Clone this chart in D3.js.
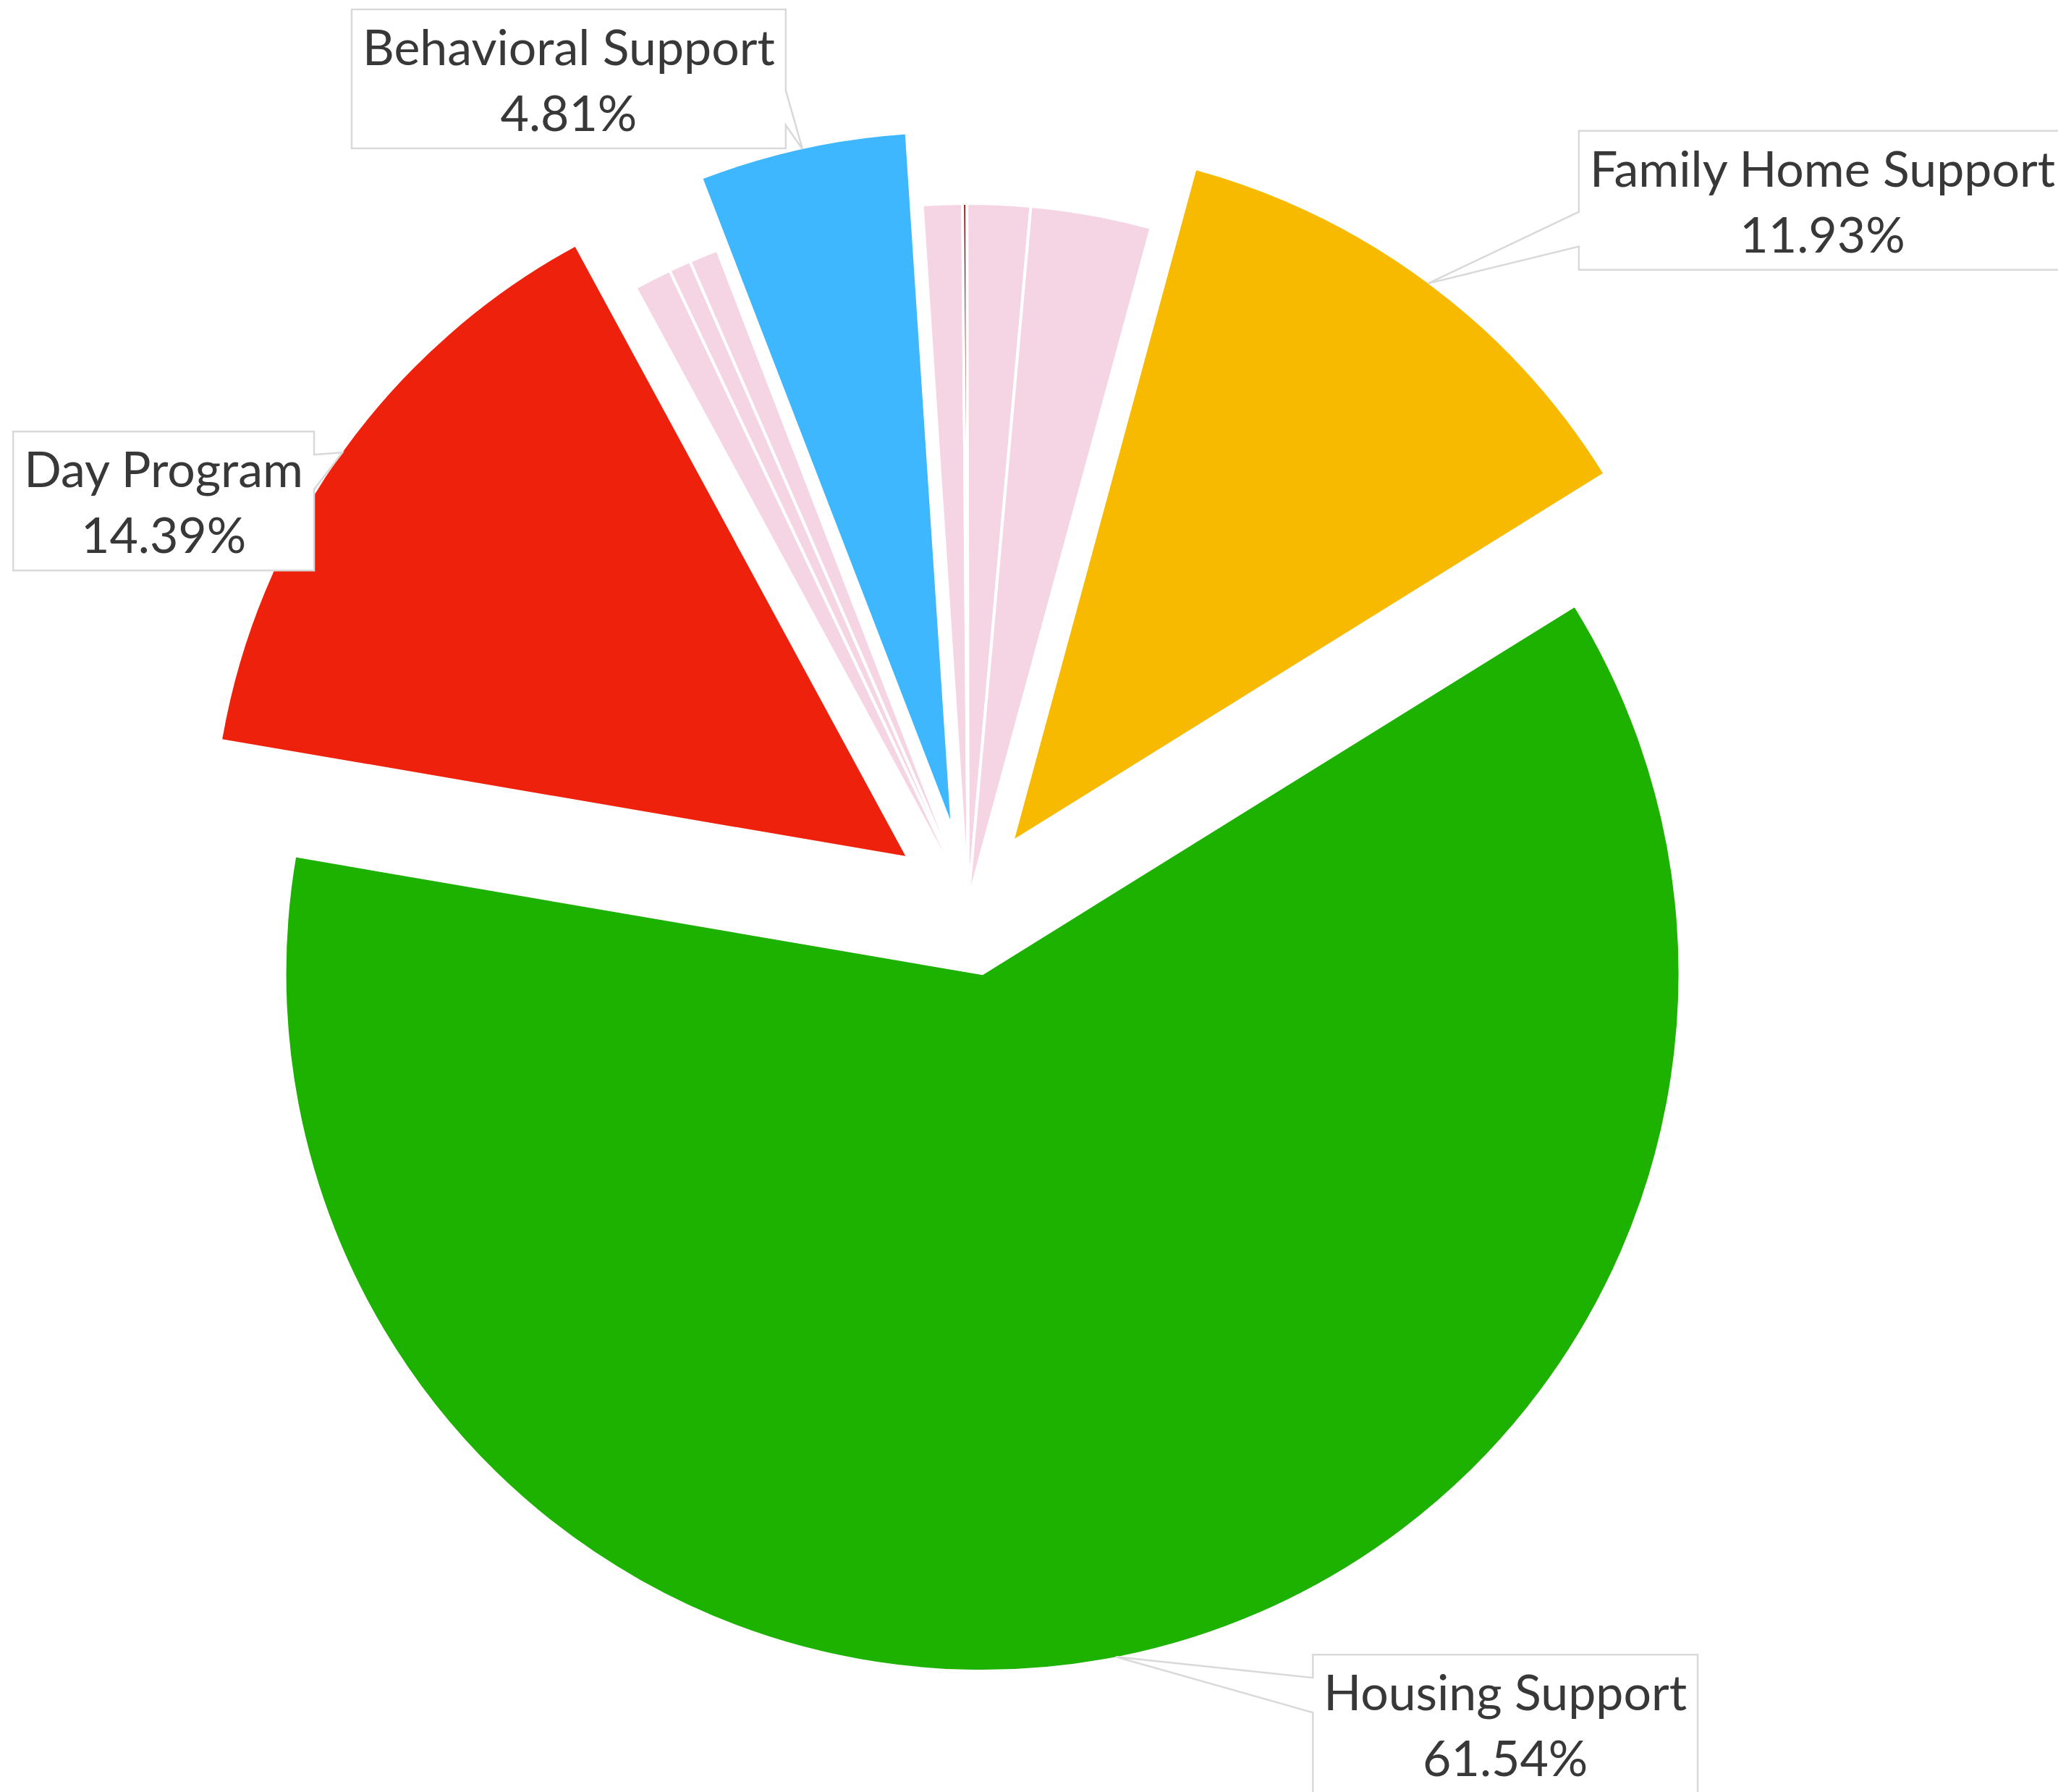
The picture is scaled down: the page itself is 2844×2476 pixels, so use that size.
<!DOCTYPE html>
<html>
<head>
<meta charset="utf-8">
<script src="https://cdn.jsdelivr.net/npm/d3@7"></script>
<style>
  html, body { margin: 0; padding: 0; background: #ffffff; }
  svg { display: block; }
</style>
</head>
<body>
<svg id="chart" width="2844" height="2476"></svg>
<script>
// Service categories, in clockwise order starting from the first slice
const categories = [
  "Family Home Support", "Housing Support", "Day Program",
  "Other Service 1", "Other Service 2", "Other Service 3",
  "Behavioral Support",
  "Other Service 4", "Other Service 5", "Other Service 6", "Other Service 7"
];
// Share of spending, percent
const shares = [11.93, 61.54, 14.39, 0.87, 0.51, 0.67, 4.81, 0.92, 0.10, 1.46, 2.79];
// Which categories carry a callout label
const labeledCategories = ["Family Home Support", "Housing Support", "Day Program", "Behavioral Support"];

// Slice colours
const sliceColors = [
  "#F8BA00", "#1DB100", "#EE220C",
  "#F5D4E4", "#F5D4E4", "#F5D4E4",
  "#3FB7FE",
  "#F5D4E4", "#941100", "#F5D4E4", "#F5D4E4"
];

// Layout
const width = 2844, height = 2476;
const cx = 1338, cy = 1245;      // pie centre
const radius = 964;
const explode = 102;              // offset of labelled slices
const startDeg = 15.2;

// Callout box placement: box centre relative to the pointer tip
const calloutOffset = {
  "Behavioral Support": [-323, -97],
  "Family Home Support": [545, -115],
  "Day Program": [-247, 67],
  "Housing Support": [538, 93]
};

const svg = d3.select("#chart");

const data = categories.map((c, i) => ({ name: c, value: shares[i], color: sliceColors[i] }));

const pie = d3.pie()
  .sort(null)
  .value(d => d.value)
  .startAngle(startDeg * Math.PI / 180)
  .endAngle(startDeg * Math.PI / 180 + 2 * Math.PI);

const arc = d3.arc().innerRadius(0).outerRadius(radius);
const arcs = pie(data);

const dir = a => [Math.sin(a), -Math.cos(a)];

arcs.forEach(a => {
  const mid = (a.startAngle + a.endAngle) / 2;
  const off = labeledCategories.includes(a.data.name) ? explode : 0;
  const [ux, uy] = dir(mid);
  a.ox = cx + off * ux;
  a.oy = cy + off * uy;
  a.mid = mid;
});

const slices = svg.append("g").attr("class", "slices");
slices.selectAll("path")
  .data(arcs)
  .join("path")
  .attr("transform", d => `translate(${d.ox},${d.oy})`)
  .attr("d", arc)
  .attr("fill", d => d.data.color)
  .attr("stroke", "#ffffff")
  .attr("stroke-width", 4)
  .attr("stroke-linejoin", "miter");

// Callout labels
const fontSize = 68;
const labels = svg.append("g").attr("class", "callouts");

arcs.filter(a => labeledCategories.includes(a.data.name)).forEach(a => {
  const [ux, uy] = dir(a.mid);
  const tipX = a.ox + (radius - 2) * ux;
  const tipY = a.oy + (radius - 2) * uy;
  const [dx, dy] = calloutOffset[a.data.name];
  const bcx = tipX + dx, bcy = tipY + dy;

  const g = labels.append("g");
  const t1 = g.append("text")
    .attr("x", bcx).attr("text-anchor", "middle")
    .attr("font-family", "Lato, 'Open Sans', sans-serif")
    .attr("font-size", fontSize)
    .attr("fill", "#383838")
    .text(a.data.name);
  const t2 = g.append("text")
    .attr("x", bcx).attr("text-anchor", "middle")
    .attr("font-family", "Lato, 'Open Sans', sans-serif")
    .attr("font-size", fontSize)
    .attr("fill", "#383838")
    .text(d3.format(".2f")(a.data.value) + "%");

  const tw = Math.max(t1.node().getComputedTextLength(), t2.node().getComputedTextLength());
  const bw = tw + 30, bh = 192;
  const left = bcx - bw / 2, right = bcx + bw / 2;
  const top = bcy - bh / 2, bottom = bcy + bh / 2;

  t1.attr("y", top + 77);
  t2.attr("y", top + 168);

  // wedge base on the side facing the tip
  const baseMid = bcy + (tipY > bcy ? 40 : -40);
  const b1 = baseMid - 24, b2 = baseMid + 24;
  let p;
  if (tipX > right) {
    p = `M${left},${top}H${right}V${b1}L${tipX},${tipY}L${right},${b2}V${bottom}H${left}Z`;
  } else {
    p = `M${left},${top}H${right}V${bottom}H${left}V${b2}L${tipX},${tipY}L${left},${b1}Z`;
  }
  g.insert("path", "text")
    .attr("d", p)
    .attr("fill", "#ffffff")
    .attr("stroke", "#D9D9D9")
    .attr("stroke-width", 2.5);
});
</script>
</body>
</html>
